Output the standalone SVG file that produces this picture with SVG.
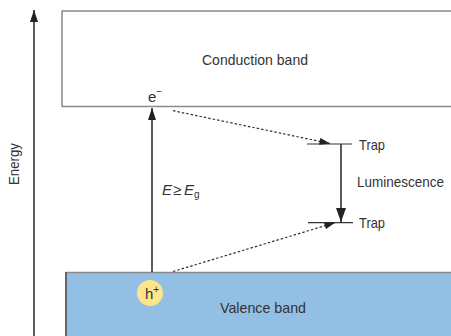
<svg xmlns="http://www.w3.org/2000/svg" width="451" height="336" viewBox="0 0 451 336">
<style>
text{font-family:"Liberation Sans",Arial,sans-serif;fill:#333;font-size:15px}
.band{stroke:#8a8a8a;stroke-width:1.5}
.solid{stroke:#333;stroke-width:1.6;fill:none}
.dash{stroke:#333;stroke-width:1.2;stroke-dasharray:2.5 2;fill:none}
.trap{stroke:#333;stroke-width:1.2}
</style>
<defs>
<marker id="ah" viewBox="0 0 12 8" refX="12" refY="4" markerWidth="12" markerHeight="8" markerUnits="userSpaceOnUse" orient="auto"><path d="M0,0 L12,4 L0,8 Z" fill="#222"/></marker>
<marker id="ahd" viewBox="0 0 12 8" refX="12" refY="4" markerWidth="12" markerHeight="7" markerUnits="userSpaceOnUse" orient="auto"><path d="M0,0 L12,4 L0,8 Z" fill="#222"/></marker>
<marker id="ahb" viewBox="0 0 14 10" refX="14" refY="5" markerWidth="14" markerHeight="10" markerUnits="userSpaceOnUse" orient="auto"><path d="M0,0 L14,5 L0,10 Z" fill="#222"/></marker>
</defs>
<g id="energy-axis">
<line x1="34" y1="336" x2="34" y2="10" class="solid" stroke-width="2" marker-end="url(#ah)"/>
<text transform="translate(19,185) rotate(-90)" font-size="13" textLength="42" lengthAdjust="spacingAndGlyphs">Energy</text>
</g>
<g id="conduction-band">
<rect x="62" y="11" width="400" height="95.5" fill="#fff" class="band"/>
<text x="202" y="65" textLength="106" lengthAdjust="spacingAndGlyphs">Conduction band</text>
</g>
<g id="valence-band">
<rect x="66" y="272.5" width="400" height="80" fill="#93bfe4" class="band"/>
<line x1="66" y1="272" x2="66" y2="336" stroke="#555" stroke-width="1.5"/>
<text x="220" y="313" textLength="86" lengthAdjust="spacingAndGlyphs">Valence band</text>
</g>
<g id="electron">
<text x="148" y="102" font-size="14">e<tspan font-size="10" dy="-7">−</tspan></text>
</g>
<g id="hole">
<circle cx="150" cy="293" r="13" fill="#fde68a"/>
<text x="145" y="299" font-size="14">h<tspan font-size="10" dy="-6">+</tspan></text>
</g>
<g id="trap-upper">
<line x1="307" y1="144" x2="352" y2="144" class="trap"/>
<text x="359" y="150" textLength="26" lengthAdjust="spacingAndGlyphs">Trap</text>
</g>
<g id="trap-lower">
<line x1="308" y1="222.7" x2="353" y2="222.7" class="trap"/>
<text x="359" y="228" textLength="26" lengthAdjust="spacingAndGlyphs">Trap</text>
</g>
<g id="connectors">
<line x1="152" y1="272" x2="152" y2="108" class="solid" marker-end="url(#ah)"/>
<text x="162" y="195" font-style="italic" font-size="14">E</text>
<text x="173" y="195" font-size="14">≥</text>
<text x="184" y="195" font-style="italic" font-size="14">E<tspan font-style="normal" font-size="10" dy="3">g</tspan></text>
<line x1="173" y1="110.7" x2="330" y2="143.5" class="dash" marker-end="url(#ahd)"/>
<line x1="173" y1="271.5" x2="335" y2="222.7" class="dash" marker-end="url(#ahd)"/>
<line x1="341" y1="144" x2="341" y2="222" class="solid" stroke-width="2" marker-end="url(#ahb)"/>
<text x="357" y="187" font-size="12.5" textLength="87" lengthAdjust="spacingAndGlyphs">Luminescence</text>
</g>
</svg>
